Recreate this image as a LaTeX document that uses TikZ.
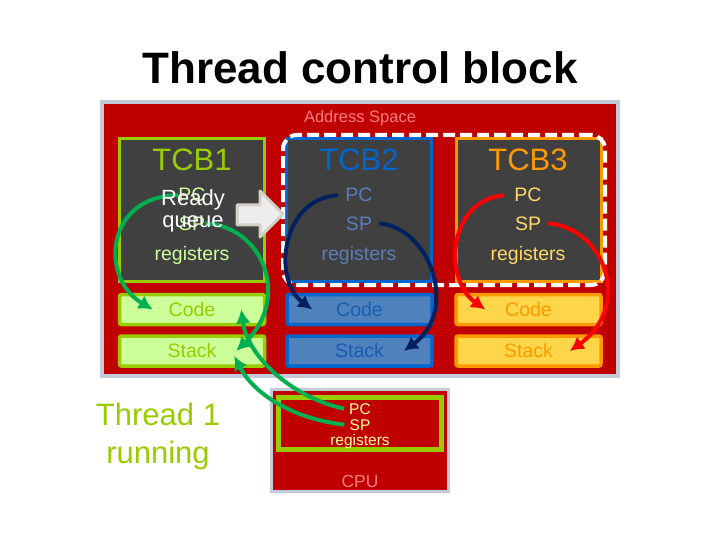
\documentclass[tikz,border=0pt]{standalone}
\usepackage{fontspec}
\setmainfont{Liberation Sans}
\usepackage{tikz}
\usetikzlibrary{arrows.meta,positioning,fit,backgrounds,calc}
\definecolor{slidered}{HTML}{C00000}
\definecolor{frame}{HTML}{C3CAD8}
\definecolor{tcbgray}{HTML}{404040}
\definecolor{limegrn}{HTML}{99CC00}
\definecolor{palegrn}{HTML}{CCFF99}
\definecolor{tcbblue}{HTML}{0066CC}
\definecolor{softblue}{HTML}{5A7DB8}
\definecolor{segblue}{HTML}{4F81BD}
\definecolor{deepblue}{HTML}{1A5CB0}
\definecolor{tcborange}{HTML}{FF9900}
\definecolor{segyellow}{HTML}{FFD54A}
\definecolor{softyellow}{HTML}{FFD966}
\definecolor{pinktext}{HTML}{FF7C80}
\definecolor{cputext}{HTML}{FFFF99}
\definecolor{arrgreen}{HTML}{00B050}
\definecolor{arrnavy}{HTML}{002060}
\definecolor{arrred}{HTML}{FF0000}
\definecolor{queuegray}{HTML}{D4D0C8}
\tikzset{tcbbox/.style={draw,line width=3pt,fill=tcbgray,minimum width=145pt,minimum height=143pt,inner sep=0pt},segbox/.style={line width=3.5pt,rounded corners=2pt,minimum width=145pt,minimum height=30pt,inner sep=0pt},lab/.style={anchor=base,inner sep=0pt},tcbname/.style={lab,font=\fontsize{31}{31}\selectfont},regtext/.style={lab,font=\fontsize{19.5}{20}\selectfont},cputxt/.style={lab,text=cputext,font=\fontsize{15.5}{16}\selectfont},arr/.style={-{Latex[length=14pt,width=15pt]},line width=4pt}}

\begin{document}
\begin{tikzpicture}[x=1pt,y=-1pt]
\useasboundingbox (0,0) rectangle (720,540);
\node[lab,font=\bfseries\fontsize{44}{44}\selectfont] (title) at (360,84) {Thread control block};
\node[draw=frame,fill=slidered,line width=4pt,minimum width=516pt,minimum height=274pt,inner sep=0pt] (as) at (360,239) {};
\node[lab,text=pinktext,font=\fontsize{16.5}{17}\selectfont] (aslab) at (360,123) {Address Space};
% thread control blocks
\node[tcbbox,draw=limegrn] (tcb1) at (192,210) {};
\node[tcbbox,draw=tcbblue] (tcb2) at (359,210) {};
\node[tcbbox,draw=tcborange] (tcb3) at (529,210) {};
\node[tcbname,text=limegrn] (name1) at (192,171) {TCB1};
\node[tcbname,text=tcbblue] (name2) at (359,171) {TCB2};
\node[tcbname,text=tcborange] (name3) at (528,171) {TCB3};
\node[regtext,text=palegrn] (pc1) at (192,202) {PC};
\node[regtext,text=palegrn] (sp1) at (192,230) {SP};
\node[regtext,text=palegrn] (reg1) at (192,260) {registers};
\node[regtext,text=softblue] (pc2) at (359,202) {PC};
\node[regtext,text=softblue] (sp2) at (359,230) {SP};
\node[regtext,text=softblue] (reg2) at (359,260) {registers};
\node[regtext,text=softyellow] (pc3) at (528,202) {PC};
\node[regtext,text=softyellow] (sp3) at (528,230) {SP};
\node[regtext,text=softyellow] (reg3) at (528,260) {registers};
% code and stack
\node[segbox,draw=limegrn,fill=palegrn] (code1) at (192,309.5) {};
\node[segbox,draw=tcbblue,fill=segblue] (code2) at (359.5,309.5) {};
\node[segbox,draw=tcborange,fill=segyellow] (code3) at (528.5,309.5) {};
\node[segbox,draw=limegrn,fill=palegrn] (stack1) at (192,351) {};
\node[segbox,draw=tcbblue,fill=segblue] (stack2) at (359.5,351) {};
\node[segbox,draw=tcborange,fill=segyellow] (stack3) at (528.5,351) {};
\node[regtext,text=limegrn] at (192,316) {Code};
\node[regtext,text=deepblue] at (359.5,316) {Code};
\node[regtext,text=tcborange] at (528.5,316) {Code};
\node[regtext,text=limegrn] at (192,357) {Stack};
\node[regtext,text=deepblue] at (359.5,357) {Stack};
\node[regtext,text=tcborange] at (528.5,357) {Stack};
\node[draw=white,dash pattern=on 12pt off 5pt,line width=4pt,rounded corners=14pt,fit=(tcb2)(tcb3),inner sep=2pt] (ready) {};
\draw[queuegray,fill=white!93!black,line width=3pt,line join=round] (237,205) -- (260,205) -- (260,191) -- (283,214) -- (260,237) -- (260,225) -- (237,225) -- cycle;
% cpu
\node[draw=frame,fill=slidered,line width=3pt,minimum width=177pt,minimum height=102pt,inner sep=0pt] (cpu) at (360,440.5) {};
\node[draw=limegrn,fill=slidered,line width=5pt,minimum width=163pt,minimum height=52pt,inner sep=0pt] (cpureg) at (360,423.5) {};
\node[cputxt] (cpc) at (360,414) {PC};
\node[cputxt] (csp) at (360,430) {SP};
\node[cputxt] (creg) at (360,445) {registers};
\node[lab,text=pinktext,font=\fontsize{17.5}{18}\selectfont] (cpulab) at (360,487) {CPU};
\node[text=limegrn,align=center,inner sep=0pt,font=\fontsize{31}{38}\selectfont] (run) at (158,436) {Thread 1\\running};
% arrows
\draw[arr,arrgreen] (pc1.west) .. controls +(-72,0) and +(-54,-32) .. ([xshift=35pt]code1.west);
\draw[arr,arrgreen] (sp1.east) .. controls +(58,3) and +(55,-53) .. ([xshift=-30pt]stack1.east);
\draw[arr,arrnavy] ([xshift=-7pt]pc2.west) .. controls +(-57,3) and +(-40,-30) .. ([xshift=27pt]code2.west);
\draw[arr,arrnavy] ([xshift=7pt]sp2.east) .. controls +(52,5) and +(55,-40) .. ([xshift=-30pt]stack2.east);
\draw[arr,arrred] ([xshift=-10pt]pc3.west) .. controls +(-57,5) and +(-42,-30) .. ([xshift=31pt]code3.west);
\draw[arr,arrred] ([xshift=7pt]sp3.east) .. controls +(58,5) and +(62,-44) .. ([xshift=-33pt]stack3.east);
\draw[arr,arrgreen] ([xshift=-5pt]cpc.west) .. controls +(-55,-12) and +(6,45) .. ([xshift=-25pt]code1.east);
\draw[arr,arrgreen] ([xshift=-5pt]csp.west) .. controls +(-53,-6) and +(19,37) .. ([xshift=-32pt,yshift=-5pt]stack1.east);
\node[text=white,align=center,inner sep=0pt,font=\fontsize{22}{22}\selectfont] (rqlab) at (193,211) {Ready\\queue};
\end{tikzpicture}
\end{document}
